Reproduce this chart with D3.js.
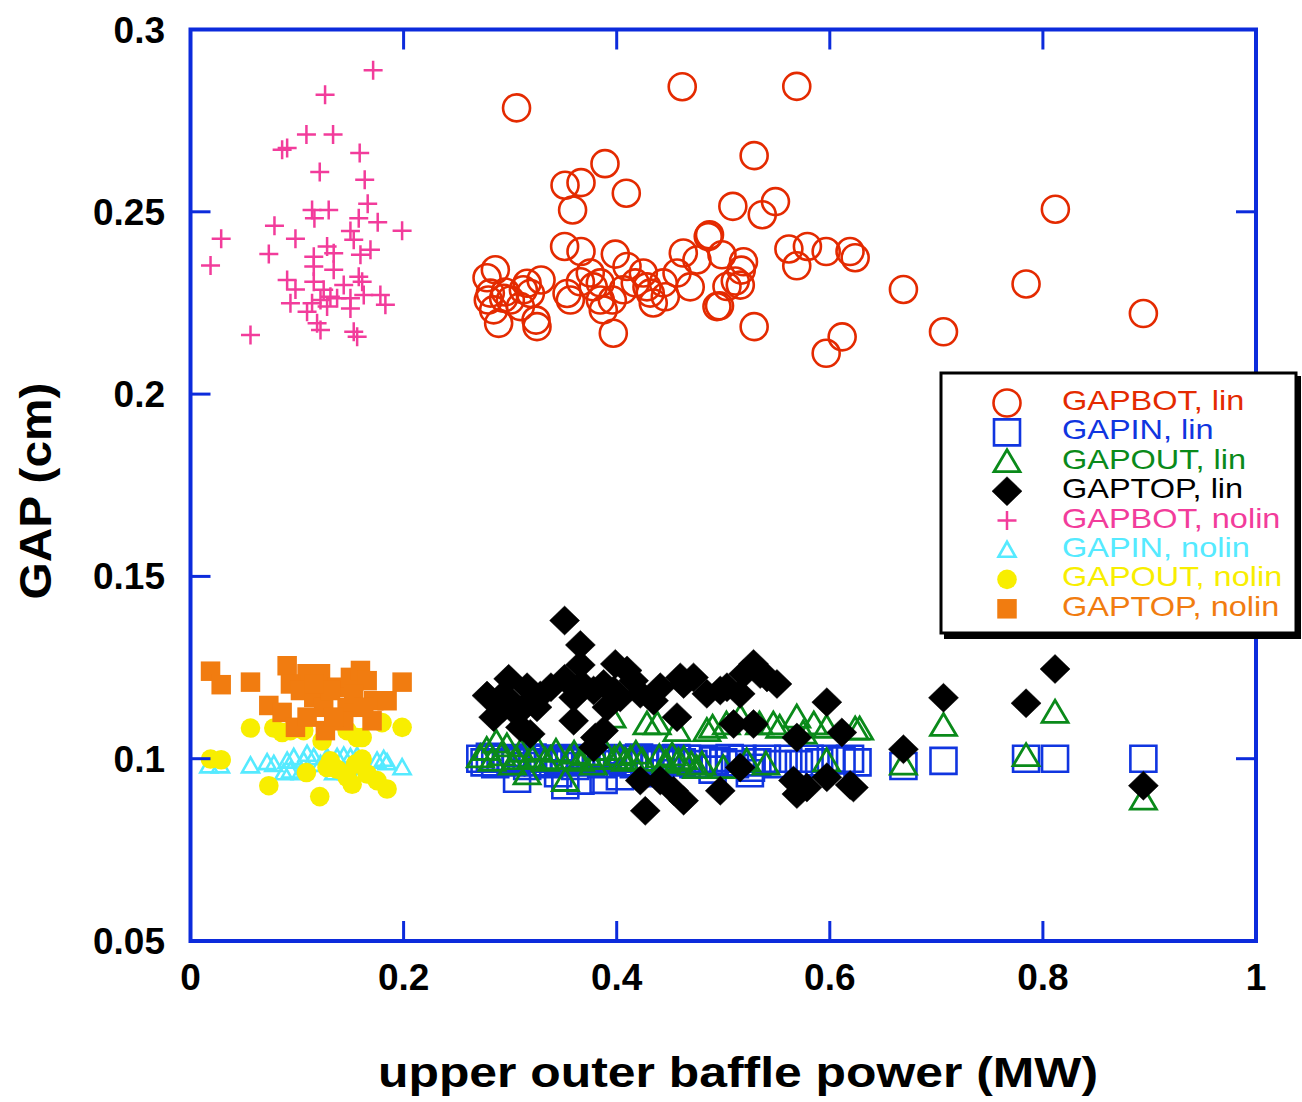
<!DOCTYPE html>
<html><head><meta charset="utf-8">
<script src="https://cdn.jsdelivr.net/npm/d3@7"></script>
<style>body{margin:0;background:#fff}svg{display:block}</style>
</head><body>
<svg id="c" width="1302" height="1102"></svg>
<script>
// ---- data (x = upper outer baffle power MW, y = GAP cm) ----
const xTicks = [0, 0.2, 0.4, 0.6, 0.8, 1];
const yTicks = [0.05, 0.1, 0.15, 0.2, 0.25, 0.3];
const xTickLabels = ["0", "0.2", "0.4", "0.6", "0.8", "1"];
const yTickLabels = ["0.05", "0.1", "0.15", "0.2", "0.25", "0.3"];
const seriesNames = ["GAPBOT, lin","GAPIN, lin","GAPOUT, lin","GAPTOP, lin","GAPBOT, nolin","GAPIN, nolin","GAPOUT, nolin","GAPTOP, nolin"];

const gapbotLin = [
[0.306,0.2785],[0.4615,0.2843],[0.569,0.2844],[0.389,0.2632],[0.3515,0.2573],[0.3665,0.258],[0.409,0.2551],[0.3586,0.2505],
[0.3511,0.2405],[0.3665,0.2391],[0.3987,0.2384],[0.529,0.2654],[0.509,0.2515],[0.549,0.2528],[0.5366,0.2492],[0.8117,0.2507],
[0.4871,0.2437],[0.4988,0.2382],[0.519,0.2363],[0.5169,0.234],[0.5035,0.2295],[0.516,0.2299],[0.4965,0.2242],[0.529,0.2185],
[0.5616,0.2398],[0.579,0.2405],[0.569,0.2352],[0.5966,0.2391],[0.619,0.2391],[0.6238,0.2374],[0.6691,0.2287],[0.6116,0.2157],
[0.5966,0.2112],[0.7067,0.2171],[0.7842,0.2302],[0.8943,0.2221],[0.2861,0.2341],[0.2783,0.2319],[0.2814,0.2277],[0.2939,0.2263],
[0.3002,0.2258],[0.2845,0.2231],[0.2892,0.2194],[0.3159,0.2304],[0.329,0.2313],[0.319,0.2276],[0.3243,0.2203],[0.3252,0.2185],
[0.3096,0.224],[0.3124,0.2286],[0.2955,0.228],[0.2795,0.2258],[0.3565,0.2258],[0.3534,0.2276],[0.3752,0.2332],[0.378,0.2294],
[0.3846,0.2258],[0.3874,0.2231],[0.3968,0.2167],[0.4097,0.235],[0.4062,0.2286],[0.425,0.2332],[0.4284,0.2294],[0.4343,0.225],
[0.4315,0.2277],[0.4566,0.2332],[0.469,0.2294],[0.4625,0.2387],[0.4859,0.2432],[0.4753,0.2368],[0.4941,0.224],[0.3659,0.2308],
[0.4174,0.2305],[0.4437,0.2305],[0.3846,0.2305],[0.3959,0.2258],[0.4456,0.2267],[0.5113,0.231]
];
const gapinLin = [
[0.272,0.1],[0.276,0.099],[0.281,0.1005],[0.286,0.0985],[0.291,0.1],[0.296,0.1002],[0.301,0.099],[0.305,0.0995],[0.311,0.1],
[0.316,0.098],[0.321,0.1003],[0.326,0.099],[0.331,0.1],[0.336,0.0985],[0.341,0.1],[0.346,0.0995],[0.351,0.099],[0.356,0.1002],
[0.361,0.098],[0.366,0.1],[0.371,0.0995],[0.376,0.099],[0.381,0.1],[0.386,0.0985],[0.391,0.1002],[0.396,0.0995],[0.401,0.1],
[0.406,0.099],[0.411,0.1],[0.416,0.0985],[0.421,0.1003],[0.426,0.0995],[0.431,0.099],[0.436,0.1],[0.441,0.0985],[0.446,0.1],
[0.451,0.0995],[0.456,0.1002],[0.461,0.099],[0.466,0.1],[0.472,0.0985],[0.481,0.1],[0.492,0.0995],[0.5,0.099],[0.506,0.1002],
[0.511,0.0985],[0.518,0.1],[0.526,0.0975],[0.532,0.099],[0.541,0.1],[0.551,0.0985],[0.561,0.1],[0.571,0.0985],[0.581,0.1],
[0.59,0.099],[0.601,0.1],[0.611,0.0995],[0.619,0.1],[0.626,0.099],[0.3065,0.0945],[0.3518,0.0927],[0.3877,0.0942],[0.366,0.094],
[0.403,0.0952],[0.345,0.096],[0.44,0.096],[0.49,0.097],[0.525,0.096],[0.6691,0.098],[0.7067,0.0994],[0.7842,0.1],[0.8114,0.1],[0.8943,0.1]
];
const gapoutLin = [
[0.272,0.1005],[0.278,0.1025],[0.283,0.0995],[0.287,0.1045],[0.292,0.101],[0.297,0.1035],[0.302,0.0985],[0.306,0.1],[0.31,0.102],
[0.3159,0.0958],[0.32,0.1005],[0.326,0.1025],[0.333,0.0995],[0.338,0.1],[0.343,0.102],[0.3518,0.094],[0.356,0.1],[0.36,0.1015],
[0.366,0.0995],[0.372,0.101],[0.378,0.0985],[0.383,0.1],[0.388,0.1025],[0.3956,0.1114],[0.398,0.1],[0.403,0.101],[0.408,0.0995],
[0.413,0.1],[0.418,0.1015],[0.424,0.0995],[0.4284,0.1095],[0.438,0.1095],[0.44,0.1005],[0.446,0.099],[0.452,0.101],[0.4566,0.1077],
[0.458,0.0995],[0.463,0.1],[0.47,0.0985],[0.475,0.0975],[0.4846,0.1077],[0.49,0.1086],[0.503,0.1095],[0.516,0.1114],[0.522,0.0994],
[0.534,0.1095],[0.547,0.1095],[0.553,0.1086],[0.569,0.1114],[0.575,0.107],[0.585,0.1095],[0.597,0.1086],[0.597,0.0994],[0.6238,0.1081],
[0.628,0.1081],[0.6691,0.0985],[0.7067,0.1091],[0.7842,0.1008],[0.8114,0.1127],[0.8943,0.0889],[0.48,0.0985],[0.5,0.0975],[0.54,0.0985]
];
const gaptopLin = [
[0.3511,0.1379],[0.3659,0.1312],[0.3659,0.1257],[0.3511,0.1219],[0.3987,0.126],[0.4097,0.1242],[0.2986,0.1219],[0.2783,0.1173],
[0.3159,0.1196],[0.3283,0.1173],[0.2845,0.1114],[0.3065,0.1123],[0.3189,0.1068],[0.3596,0.1168],[0.3596,0.1104],[0.3783,0.1187],
[0.3877,0.1077],[0.3783,0.1031],[0.4221,0.1178],[0.4346,0.1159],[0.4566,0.1114],[0.4597,0.1223],[0.4721,0.1223],[0.4846,0.1178],
[0.5035,0.1196],[0.5159,0.1178],[0.5284,0.126],[0.541,0.1223],[0.5504,0.1205],[0.5097,0.1095],[0.5284,0.1095],[0.5972,0.1155],
[0.5691,0.1058],[0.6113,0.1072],[0.4221,0.094],[0.4268,0.0857],[0.4409,0.094],[0.4534,0.0912],[0.4628,0.0885],[0.4972,0.0912],
[0.5159,0.0976],[0.5659,0.094],[0.5691,0.0903],[0.5785,0.0921],[0.5972,0.0949],[0.6222,0.0921],[0.3799,0.1058],[0.8114,0.1246],
[0.7842,0.1152],[0.7067,0.1167],[0.6691,0.1026],[0.8943,0.0926],[0.3018,0.1155],[0.2939,0.1141],[0.3128,0.1141],[0.3096,0.1086],
[0.3252,0.1141],[0.3383,0.1196],[0.3674,0.1205],[0.3877,0.1205],[0.3908,0.1141],[0.4033,0.1168],[0.4159,0.1214],[0.4409,0.1196],
[0.4628,0.1205],[0.4972,0.1187],[0.519,0.1232],[0.5347,0.1232],[0.6191,0.0928],[0.3971,0.1187],[0.2908,0.1168]
];
const gapbotNolin = [
[0.1714,0.2888],[0.1263,0.2821],[0.1088,0.2712],[0.1338,0.2712],[0.086,0.267],[0.0907,0.2675],[0.1588,0.2661],[0.1213,0.2609],
[0.1635,0.2588],[0.1663,0.2522],[0.1141,0.2505],[0.1297,0.2505],[0.1163,0.2482],[0.1579,0.2482],[0.1757,0.2471],[0.1986,0.2448],
[0.0788,0.2462],[0.0288,0.2426],[0.0188,0.2353],[0.0985,0.2426],[0.0735,0.2384],[0.1501,0.2447],[0.1532,0.2423],[0.1282,0.2405],
[0.1344,0.2386],[0.1689,0.2396],[0.1157,0.2377],[0.1595,0.2382],[0.1157,0.235],[0.1344,0.2341],[0.0907,0.2313],[0.0985,0.2287],
[0.1579,0.2322],[0.1611,0.2308],[0.1157,0.2308],[0.1438,0.2299],[0.125,0.2286],[0.1313,0.2267],[0.1782,0.2272],[0.1829,0.2245],
[0.1626,0.2272],[0.0938,0.2249],[0.1501,0.2263],[0.1094,0.2226],[0.1141,0.2249],[0.1188,0.2194],[0.122,0.2176],[0.1532,0.2171],
[0.1564,0.2157],[0.0563,0.2162],[0.1501,0.2235],[0.1282,0.224],[0.1376,0.2263],[0.122,0.2258]
];
const gapinNolin = [
[0.0172,0.0981],[0.0281,0.0981],[0.0563,0.0981],[0.0719,0.099],[0.0782,0.0985],[0.0907,0.0994],[0.0969,0.1004],[0.0875,0.0962],
[0.0938,0.0967],[0.1063,0.0994],[0.1094,0.1013],[0.1157,0.1004],[0.122,0.0985],[0.1282,0.1004],[0.1376,0.1004],[0.1438,0.1008],
[0.1501,0.1004],[0.1564,0.1008],[0.1611,0.0962],[0.1751,0.0994],[0.1813,0.0999],[0.1845,0.099],[0.1986,0.0976],[0.1032,0.0962],
[0.1344,0.0962],[0.147,0.0962]
];
const gapoutNolin = [
[0.0188,0.0999],[0.0288,0.0997],[0.0563,0.1084],[0.0782,0.1084],[0.086,0.1072],[0.0735,0.0926],[0.1088,0.0962],[0.1213,0.0896],
[0.1235,0.1049],[0.1282,0.0976],[0.1376,0.0971],[0.1313,0.0994],[0.1517,0.093],[0.1548,0.0985],[0.1611,0.0999],[0.1611,0.1058],
[0.147,0.0949],[0.1751,0.094],[0.1845,0.0917],[0.1798,0.1099],[0.1986,0.1086],[0.0938,0.1077],[0.1063,0.1077],[0.147,0.1077],
[0.1564,0.1058],[0.1658,0.0958]
];
const gaptopNolin = [
[0.0188,0.124],[0.0288,0.1203],[0.0563,0.121],[0.0907,0.1255],[0.0735,0.1146],[0.086,0.1127],[0.0985,0.1086],[0.1094,0.1233],
[0.122,0.1233],[0.0938,0.1205],[0.1032,0.1187],[0.1157,0.1168],[0.125,0.1141],[0.1094,0.1114],[0.1266,0.1077],[0.1376,0.1196],
[0.1501,0.1223],[0.1595,0.1242],[0.1658,0.1214],[0.172,0.1159],[0.1845,0.1159],[0.1704,0.1104],[0.147,0.1141],[0.1438,0.1104],
[0.1532,0.1178],[0.1986,0.121],[0.1313,0.1187],[0.1157,0.1205],[0.1626,0.1141],[0.1344,0.1114]
];

// ---- drawing ----
const svg = d3.select("#c");
const x = d3.scaleLinear().domain([0, 1]).range([190.5, 1256]);
const y = d3.scaleLinear().domain([0.05, 0.3]).range([941, 29.5]);
const BLUE = "#0c2bdc";

// marker shapes (style only)
const shapes = {
  circle: r => `M${r},0A${r},${r} 0 1,1 ${-r},0A${r},${r} 0 1,1 ${r},0Z`,
  square: s => `M${-s/2},${-s/2}H${s/2}V${s/2}H${-s/2}Z`,
  triangle: (w, h) => `M0,${-h*0.55}L${w/2},${h*0.45}L${-w/2},${h*0.45}Z`,
  diamond: (w, h) => `M0,${-h/2}L${w/2},0L0,${h/2}L${-w/2},0Z`,
  plus: s => `M${-s/2},0H${s/2}M0,${-s/2}V${s/2}`
};
const styles = [
  {d: shapes.circle(13.5), fill: "none", stroke: "#e42a00", sw: 2.6},
  {d: shapes.square(26), fill: "none", stroke: "#1035e0", sw: 2.6},
  {d: shapes.triangle(26, 22), fill: "none", stroke: "#0a8a1a", sw: 2.8},
  {d: shapes.diamond(30, 29), fill: "#000", stroke: "#000", sw: 0.5},
  {d: shapes.plus(19), fill: "none", stroke: "#f23c9b", sw: 2.5},
  {d: shapes.triangle(17, 15), fill: "none", stroke: "#55eaff", sw: 2.6},
  {d: shapes.circle(9.8), fill: "#f8ee00", stroke: "none", sw: 0},
  {d: shapes.square(19.5), fill: "#f17c10", stroke: "none", sw: 0}
];
const textColors = ["#e42a00","#1035e0","#0a8a1a","#000","#f23c9b","#55eaff","#f8ee00","#f17c10"];
const allSeries = [gapbotLin, gapinLin, gapoutLin, gaptopLin, gapbotNolin, gapinNolin, gapoutNolin, gaptopNolin];

const plot = svg.append("g");
allSeries.forEach((data, i) => {
  const st = styles[i];
  plot.append("g").selectAll("path").data(data).join("path")
    .attr("transform", d => `translate(${x(d[0])},${y(d[1])})`)
    .attr("d", st.d).attr("fill", st.fill).attr("stroke", st.stroke)
    .attr("stroke-width", st.sw);
});

// frame + inward ticks on all sides
const fr = svg.append("g").attr("stroke", BLUE).attr("fill", "none");
fr.append("rect").attr("x", x(0)).attr("y", y(0.3)).attr("width", x(1) - x(0)).attr("height", y(0.05) - y(0.3)).attr("stroke-width", 4);
const tl = 20;
fr.selectAll(".xb").data(xTicks).join("line").attr("x1", d => x(d)).attr("x2", d => x(d)).attr("y1", y(0.05)).attr("y2", y(0.05) - tl).attr("stroke-width", 3);
fr.selectAll(".xt").data(xTicks).join("line").attr("x1", d => x(d)).attr("x2", d => x(d)).attr("y1", y(0.3)).attr("y2", y(0.3) + tl).attr("stroke-width", 3);
fr.selectAll(".yl").data(yTicks).join("line").attr("x1", x(0)).attr("x2", x(0) + tl).attr("y1", d => y(d)).attr("y2", d => y(d)).attr("stroke-width", 3);
fr.selectAll(".yr").data(yTicks).join("line").attr("x1", x(1)).attr("x2", x(1) - tl).attr("y1", d => y(d)).attr("y2", d => y(d)).attr("stroke-width", 3);

const FONT = "'Liberation Sans', Arial, Helvetica, sans-serif";
svg.append("g").selectAll("text").data(xTicks).join("text")
  .attr("x", d => x(d)).attr("y", 990).attr("text-anchor", "middle")
  .attr("font-family", FONT).attr("font-weight", "bold").attr("font-size", 37)
  .text((d, i) => xTickLabels[i]);
svg.append("g").selectAll("text").data(yTicks).join("text")
  .attr("x", 165).attr("y", d => y(d) + 13).attr("text-anchor", "end")
  .attr("font-family", FONT).attr("font-weight", "bold").attr("font-size", 37)
  .text((d, i) => yTickLabels[i]);

svg.append("text").attr("x", 738).attr("y", 1087).attr("text-anchor", "middle")
  .attr("font-family", FONT).attr("font-weight", "bold").attr("font-size", 43)
  .attr("textLength", 720).attr("lengthAdjust", "spacingAndGlyphs")
  .text("upper outer baffle power (MW)");
svg.append("text").attr("transform", "translate(51,491) rotate(-90)").attr("text-anchor", "middle")
  .attr("font-family", FONT).attr("font-weight", "bold").attr("font-size", 45)
  .attr("textLength", 217).attr("lengthAdjust", "spacingAndGlyphs")
  .text("GAP (cm)");

// legend
const lg = svg.append("g");
lg.append("rect").attr("x", 944).attr("y", 376).attr("width", 357).attr("height", 263).attr("fill", "#000");
lg.append("rect").attr("x", 941).attr("y", 373).attr("width", 355).attr("height", 260).attr("fill", "#fff").attr("stroke", "#000").attr("stroke-width", 3);
seriesNames.forEach((name, i) => {
  const cy = 403 + i * 29.4;
  const st = styles[i];
  lg.append("path").attr("transform", `translate(1007,${cy})`).attr("d", st.d)
    .attr("fill", st.fill).attr("stroke", st.stroke).attr("stroke-width", st.sw);
  const t = lg.append("text").attr("x", 1062).attr("y", cy + 7)
    .attr("font-family", FONT).attr("font-size", 28).attr("fill", textColors[i]).text(name);
  const w = t.node().getComputedTextLength();
  t.attr("textLength", w * 1.16).attr("lengthAdjust", "spacingAndGlyphs");
});
</script>
</body></html>
